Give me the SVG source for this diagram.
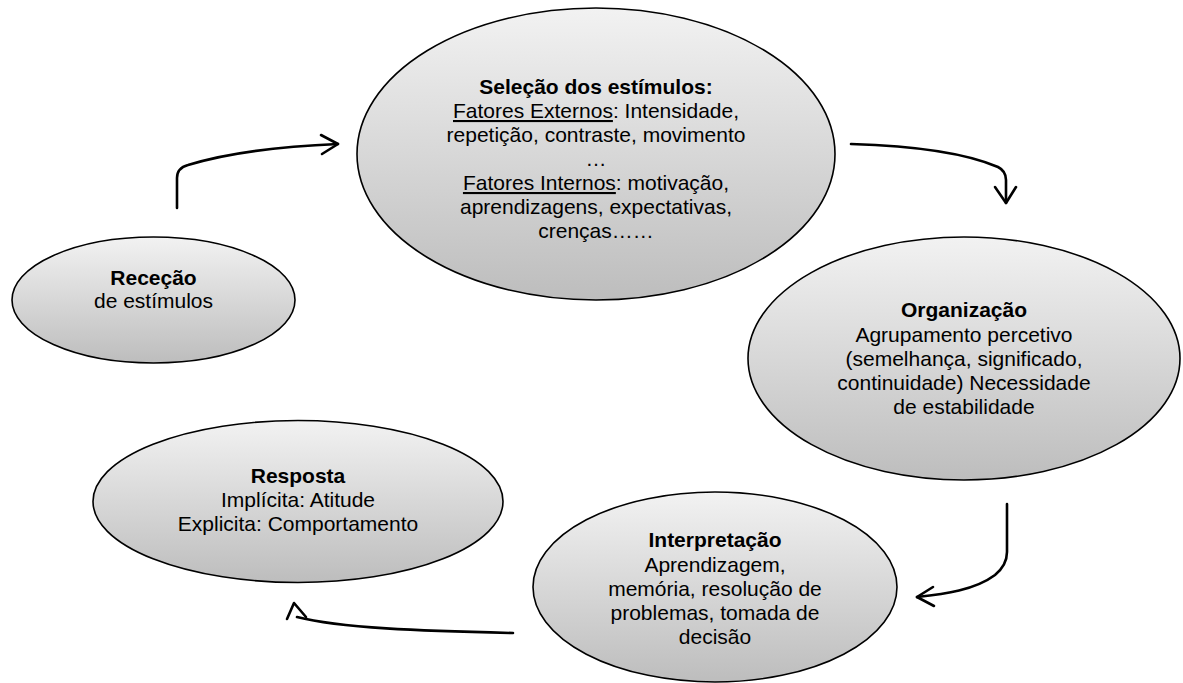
<svg xmlns="http://www.w3.org/2000/svg" width="1183" height="683" viewBox="0 0 1183 683">
<defs>
<linearGradient id="g" x1="0" y1="0" x2="0" y2="1">
<stop offset="0" stop-color="#f2f2f2"/>
<stop offset="1" stop-color="#bdbdbd"/>
</linearGradient>
<style>
.n{fill:url(#g);stroke:#000;stroke-width:1.6}
.t{font-family:"Liberation Sans",Arial,sans-serif;font-size:21px;fill:#000;text-anchor:middle}
.b{font-weight:bold}
.u{text-decoration:underline}
.c{fill:none;stroke:#000;stroke-width:2.6;stroke-linecap:round;stroke-linejoin:round}
</style>
</defs>
<rect width="1183" height="683" fill="#fff"/>
<g id="connectors">
<path class="c" d="M177,208 L177,178 Q177,168 188,165 C230,152 290,146 338,144"/>
<polyline class="c" points="321,135 338,144 322,154"/>
<path class="c" d="M851,144 C920,146 970,155 998,167 Q1006,171 1006,180 L1006,203"/>
<polyline class="c" points="995,187 1006,203 1016,187"/>
<path class="c" d="M1007,504 L1007,552 Q1007,565 995,575 C975,590 945,594 917,597"/>
<polyline class="c" points="933,587 917,597 934,606"/>
<path class="c" d="M513,633 C420,631 340,628 297,617"/>
<polyline class="c" points="287,619 294,603 306,617"/>
</g>
<g id="selecao">
<ellipse class="n" cx="596" cy="154" rx="239" ry="146"/>
<text class="t" x="596" y="94"><tspan class="b">Seleção dos estímulos:</tspan></text>
<text class="t" x="596" y="118"><tspan class="u">Fatores Externos</tspan>: Intensidade,</text>
<text class="t" x="596" y="142">repetição, contraste, movimento</text>
<text class="t" x="596" y="166">…</text>
<text class="t" x="596" y="190"><tspan class="u">Fatores Internos</tspan>: motivação,</text>
<text class="t" x="596" y="214">aprendizagens, expectativas,</text>
<text class="t" x="596" y="238">crenças……</text>
</g>
<g id="rececao">
<ellipse class="n" cx="153.5" cy="300" rx="141.5" ry="63"/>
<text class="t b" x="153.5" y="285">Receção</text>
<text class="t" x="153.5" y="308">de estímulos</text>
</g>
<g id="organizacao">
<ellipse class="n" cx="964" cy="358.5" rx="216" ry="121.5"/>
<text class="t b" x="964" y="317">Organização</text>
<text class="t" x="964" y="342">Agrupamento percetivo</text>
<text class="t" x="964" y="366">(semelhança, significado,</text>
<text class="t" x="964" y="390">continuidade) Necessidade</text>
<text class="t" x="964" y="414">de estabilidade</text>
</g>
<g id="interpretacao">
<ellipse class="n" cx="715" cy="587" rx="182" ry="95"/>
<text class="t b" x="715" y="547">Interpretação</text>
<text class="t" x="715" y="572">Aprendizagem,</text>
<text class="t" x="715" y="596">memória, resolução de</text>
<text class="t" x="715" y="620">problemas, tomada de</text>
<text class="t" x="715" y="644">decisão</text>
</g>
<g id="resposta">
<ellipse class="n" cx="298" cy="501.5" rx="205" ry="81"/>
<text class="t b" x="298" y="483">Resposta</text>
<text class="t" x="298" y="507">Implícita: Atitude</text>
<text class="t" x="298" y="531">Explicita: Comportamento</text>
</g>
</svg>
